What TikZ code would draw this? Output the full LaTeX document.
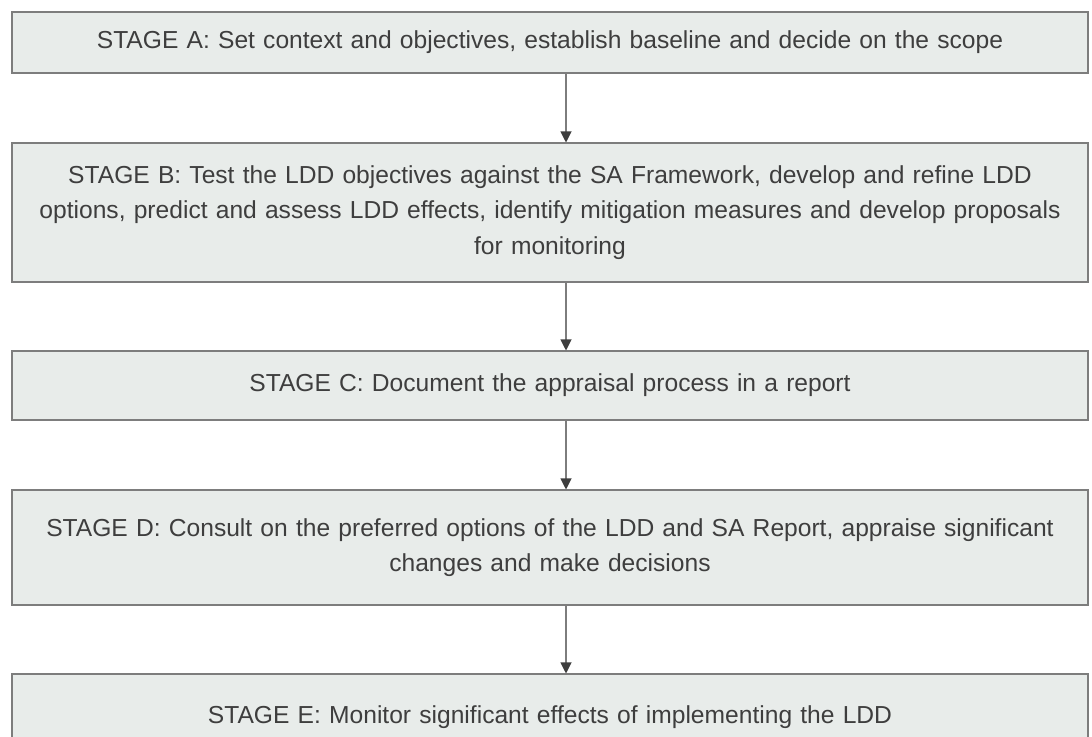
\documentclass[tikz,border=0pt]{standalone}
\usepackage{fontspec}
\setmainfont{Liberation Sans}
\usetikzlibrary{arrows.meta,positioning}
\definecolor{stageFill}{RGB}{232,236,234}
\definecolor{stageLine}{RGB}{125,125,125}
\definecolor{stageText}{RGB}{62,62,62}

\begin{document}
\begin{tikzpicture}[
    every node/.style={font=\fontsize{21}{30}\selectfont, align=center, inner sep=2pt},
    stagebox/.style={draw=stageLine, fill=stageFill, line width=0.9pt, text=stageText,
      minimum width=32.28cm, text width=32cm},
    flow/.style={-{Triangle[length=0.33cm, width=0.33cm, color=stageText]}, stageLine, line width=0.9pt}
  ]
    \useasboundingbox (0,0) rectangle (32.76,-22.11);
    \clip (0,0) rectangle (32.76,-22.11);
    % Stages
    \node[stagebox, minimum height=1.83cm] (sa) at (16.5,-1.275)
      {STAGE A: Set context and objectives, establish baseline and decide on the scope};
    \node[stagebox, minimum height=4.17cm] (sb) at (16.5,-6.375)
      {STAGE B: Test the LDD objectives against the SA Framework, develop and refine LDD\\
       options, predict and assess LDD effects, identify mitigation measures and develop proposals\\
       for monitoring\\[-0.25cm]};
    \node[stagebox, minimum height=2.07cm] (sc) at (16.5,-11.565)
      {STAGE C: Document the appraisal process in a report};
    \node[stagebox, minimum height=3.45cm] (sd) at (16.5,-16.425)
      {STAGE D: Consult on the preferred options of the LDD and SA Report, appraise significant\\
       changes and make decisions\\[-0.25cm]};
    \node[stagebox, minimum height=2.58cm] (se) at (16.5,-21.51)
      {STAGE E: Monitor significant effects of implementing the LDD\\[1.2cm]};
    % Arrows
    \draw[flow] ([xshift=0.48cm]sa.south) -- ([xshift=0.48cm]sb.north);
    \draw[flow] ([xshift=0.48cm]sb.south) -- ([xshift=0.48cm]sc.north);
    \draw[flow] ([xshift=0.48cm]sc.south) -- ([xshift=0.48cm]sd.north);
    \draw[flow] ([xshift=0.48cm]sd.south) -- ([xshift=0.48cm]se.north);
  \end{tikzpicture}
\end{document}
